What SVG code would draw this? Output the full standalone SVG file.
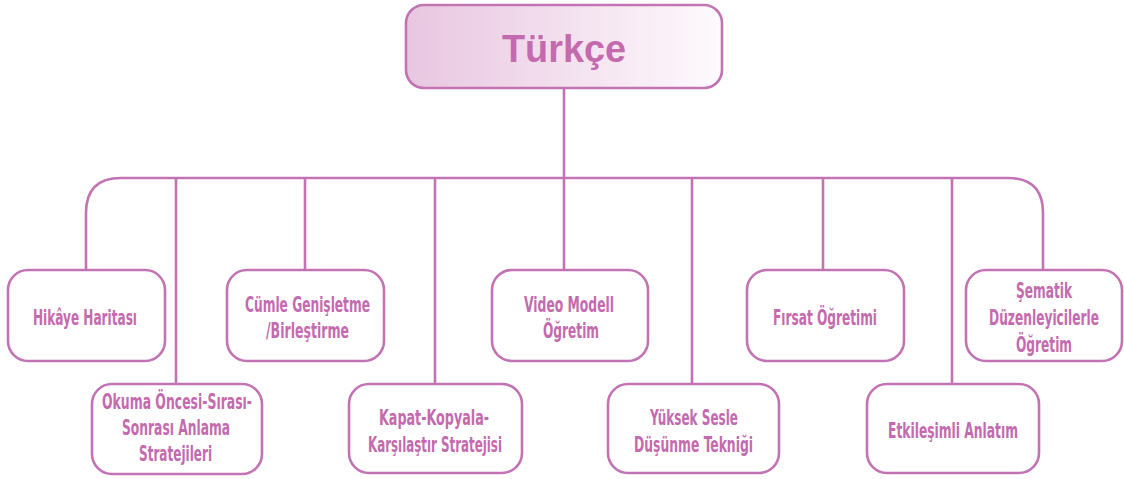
<svg xmlns="http://www.w3.org/2000/svg" width="1124" height="479" viewBox="0 0 1124 479">
<defs>
<linearGradient id="tg" x1="0" y1="0" x2="1" y2="0">
<stop offset="0" stop-color="#e8c6e0"/>
<stop offset="1" stop-color="#fefafd"/>
</linearGradient>
<style>
.box{fill:#ffffff;stroke:#c273b3;stroke-width:2.6}
.ln{fill:none;stroke:#c273b3;stroke-width:2.6}
.t{font-family:"Liberation Sans Narrow","DejaVu Sans Condensed","Liberation Sans",sans-serif;font-weight:bold;font-size:21px;fill:#c46aae;text-anchor:middle}
.title{font-family:"Liberation Sans","DejaVu Sans",sans-serif;font-weight:bold;font-size:39px;fill:#c46aae;text-anchor:middle}
</style>
</defs>
<rect width="1124" height="479" fill="#ffffff"/>
<g id="connectors">
<path class="ln" d="M86,270 V213 Q86,178 121,178 H1008 Q1043,178 1043,213 V270"/>
<line class="ln" x1="564" y1="88" x2="564" y2="270"/>
<line class="ln" x1="176" y1="178" x2="176" y2="384"/>
<line class="ln" x1="305" y1="178" x2="305" y2="270"/>
<line class="ln" x1="435" y1="178" x2="435" y2="384"/>
<line class="ln" x1="692" y1="178" x2="692" y2="384"/>
<line class="ln" x1="823" y1="178" x2="823" y2="270"/>
<line class="ln" x1="952" y1="178" x2="952" y2="384"/>
</g>
<g id="turkce">
<rect x="406" y="5" width="316" height="83" rx="18" fill="url(#tg)" stroke="#c273b3" stroke-width="2.6"/>
<text class="title" x="564" y="62" textLength="124" lengthAdjust="spacingAndGlyphs">Türkçe</text>
</g>
<g id="hikaye">
<rect class="box" x="8" y="270" width="157" height="91" rx="20"/>
<text class="t" x="85" y="325" textLength="104" lengthAdjust="spacingAndGlyphs">Hikâye Haritası</text>
</g>
<g id="okuma">
<rect class="box" x="92" y="384" width="170" height="90" rx="20"/>
<text class="t" x="177" y="409" textLength="150" lengthAdjust="spacingAndGlyphs">Okuma Öncesi-Sırası-</text>
<text class="t" x="176" y="435" textLength="108" lengthAdjust="spacingAndGlyphs">Sonrası Anlama</text>
<text class="t" x="175.5" y="461" textLength="73" lengthAdjust="spacingAndGlyphs">Stratejileri</text>
</g>
<g id="cumle">
<rect class="box" x="227" y="270" width="157" height="91" rx="20"/>
<text class="t" x="307.5" y="312" textLength="125" lengthAdjust="spacingAndGlyphs">Cümle Genişletme</text>
<text class="t" x="307.5" y="338" textLength="83" lengthAdjust="spacingAndGlyphs">/Birleştirme</text>
</g>
<g id="kapat">
<rect class="box" x="349" y="384" width="173" height="89" rx="20"/>
<text class="t" x="434" y="425" textLength="110" lengthAdjust="spacingAndGlyphs">Kapat-Kopyala-</text>
<text class="t" x="435" y="452" textLength="134" lengthAdjust="spacingAndGlyphs">Karşılaştır Stratejisi</text>
</g>
<g id="video">
<rect class="box" x="492" y="270" width="156" height="91" rx="20"/>
<text class="t" x="569" y="312" textLength="90" lengthAdjust="spacingAndGlyphs">Video Modell</text>
<text class="t" x="571" y="338" textLength="56" lengthAdjust="spacingAndGlyphs">Öğretim</text>
</g>
<g id="yuksek">
<rect class="box" x="608" y="384" width="171" height="89" rx="20"/>
<text class="t" x="694" y="425" textLength="88" lengthAdjust="spacingAndGlyphs">Yüksek Sesle</text>
<text class="t" x="693.5" y="452" textLength="119" lengthAdjust="spacingAndGlyphs">Düşünme Tekniği</text>
</g>
<g id="firsat">
<rect class="box" x="747" y="270" width="157" height="91" rx="20"/>
<text class="t" x="825" y="325" textLength="104" lengthAdjust="spacingAndGlyphs">Fırsat Öğretimi</text>
</g>
<g id="etkilesimli">
<rect class="box" x="867" y="384" width="172" height="89" rx="20"/>
<text class="t" x="953" y="438" textLength="130" lengthAdjust="spacingAndGlyphs">Etkileşimli Anlatım</text>
</g>
<g id="sematik">
<rect class="box" x="966" y="270" width="156" height="91" rx="20"/>
<text class="t" x="1044" y="298" textLength="56" lengthAdjust="spacingAndGlyphs">Şematik</text>
<text class="t" x="1044" y="325" textLength="110" lengthAdjust="spacingAndGlyphs">Düzenleyicilerle</text>
<text class="t" x="1044" y="352" textLength="56" lengthAdjust="spacingAndGlyphs">Öğretim</text>
</g>
</svg>
